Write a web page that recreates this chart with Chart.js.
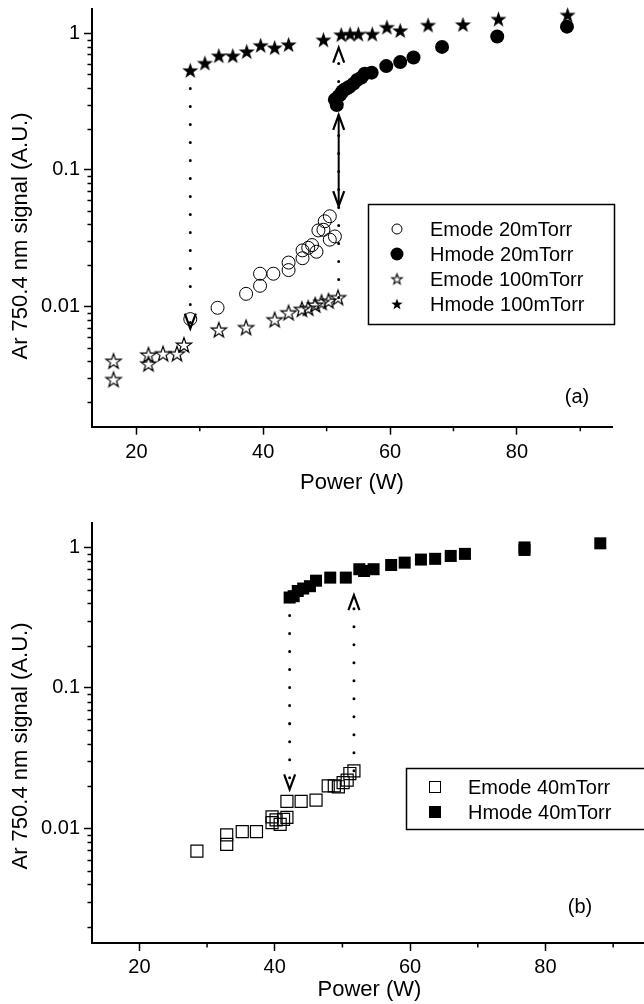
<!DOCTYPE html>
<html><head><meta charset="utf-8">
<script src="https://cdn.jsdelivr.net/npm/chart.js@4"></script>
<style>
html,body{margin:0;padding:0;background:#fff;overflow:hidden;width:644px;height:1004px;position:relative;}
#ca{position:absolute;left:0;top:0;}
#cb{position:absolute;left:0;top:500px;}
</style></head><body>
<canvas id="ca" width="644" height="500"></canvas>
<canvas id="cb" width="660" height="504"></canvas>
<script>
// ---------- data ----------
const xTickValues = [20, 30, 40, 50, 60, 70, 80, 90];
const xLabelValues = [20, 40, 60, 80];
const yDecadeBase = [0.001, 0.01, 0.1, 1];
const yLabelValues = [0.01, 0.1, 1];

// panel (a)
const e20W = [28.5, 32.8, 37.3, 39.5, 39.5, 41.6, 44.0, 44.0, 46.2, 46.2, 47.1, 47.7, 48.4, 48.7, 49.5, 49.7, 50.5, 50.5, 51.3];
const e20S = [0.0081, 0.0098, 0.0124, 0.0142, 0.0174, 0.0174, 0.0185, 0.0210, 0.0226, 0.0258, 0.0269, 0.0282, 0.0252, 0.0361, 0.0365, 0.0421, 0.0309, 0.0458, 0.0326];
const h20W = [51.3, 51.6, 51.9, 52.2, 52.5, 52.8, 53.2, 53.6, 54.2, 54.8, 55.5, 56.0, 57.1, 59.4, 61.6, 63.7, 68.2, 76.9, 87.9];
const h20S = [0.327, 0.298, 0.347, 0.357, 0.376, 0.386, 0.396, 0.406, 0.426, 0.455, 0.475, 0.505, 0.515, 0.575, 0.615, 0.665, 0.795, 0.947, 1.118];
const e100W = [16.4, 16.4, 21.9, 21.9, 24.2, 26.4, 27.5, 33.0, 37.3, 41.8, 44.0, 46.1, 47.1, 48.2, 49.2, 50.3, 51.8];
const e100S = [0.00399, 0.00293, 0.00443, 0.00381, 0.00452, 0.00452, 0.00524, 0.00676, 0.00703, 0.00802, 0.00902, 0.00956, 0.00974, 0.01028, 0.01074, 0.01101, 0.01165];
const h100W = [28.5, 30.8, 33.0, 35.2, 37.4, 39.6, 41.8, 44.0, 49.5, 52.3, 53.7, 55.0, 57.2, 59.5, 61.6, 66.0, 71.5, 77.1, 88.0];
const h100S = [0.535, 0.605, 0.685, 0.685, 0.735, 0.816, 0.785, 0.826, 0.896, 0.977, 0.987, 0.987, 0.987, 1.108, 1.047, 1.149, 1.159, 1.271, 1.362];

// transition guides (a): dotted with arrowhead at "to", solid with heads at both ends
const guideA_W = [28.5, 51.9];
const guideA_from = [0.535, 0.01165];
const guideA_to = [0.0069, 0.785];
const solidA_W = [51.9];
const solidA_from = [0.0544];
const solidA_to = [0.253];

// panel (b)
const e40W = [28.5, 32.9, 32.9, 35.2, 37.3, 39.6, 39.6, 40.2, 40.8, 41.3, 41.8, 41.8, 43.9, 46.1, 47.9, 48.8, 49.4, 50.1, 50.7, 51.1, 51.7];
const e40S = [0.0069, 0.0090, 0.0077, 0.0095, 0.0095, 0.0110, 0.0121, 0.0115, 0.0107, 0.0116, 0.0120, 0.0156, 0.0156, 0.0159, 0.0201, 0.0201, 0.0198, 0.0212, 0.0221, 0.0246, 0.0257];
const h40W = [42.2, 42.8, 43.4, 44.2, 45.2, 46.1, 48.2, 50.5, 52.5, 53.2, 54.6, 57.2, 59.2, 61.6, 63.7, 66.0, 68.1, 76.9, 76.9, 88.1];
const h40S = [0.44, 0.45, 0.49, 0.51, 0.53, 0.58, 0.61, 0.61, 0.70, 0.68, 0.70, 0.75, 0.78, 0.82, 0.83, 0.87, 0.90, 1.0, 0.96, 1.07];
const guideB_W = [42.2, 51.7];
const guideB_from = [0.44, 0.0257];
const guideB_to = [0.019, 0.458];

// ---------- helpers ----------
const FONT = '"Liberation Sans", Arial, sans-serif';
Chart.defaults.font.family = FONT;
Chart.defaults.color = '#000';

const pts = (xs, ys) => xs.map((x, i) => ({x: x, y: ys[i]}));

function starCanvas(R, filled, lw) {
  const r = R * 0.40, pad = 2, s = Math.ceil(2 * R + 2 * pad);
  const c = document.createElement('canvas'); c.width = s; c.height = s;
  const g = c.getContext('2d'); const cx = s / 2, cy = s / 2 + R * 0.08;
  g.beginPath();
  for (let i = 0; i < 10; i++) {
    const a = -Math.PI / 2 + i * Math.PI / 5, rr = (i % 2) ? r : R;
    g.lineTo(cx + rr * Math.cos(a), cy + rr * Math.sin(a));
  }
  g.closePath();
  if (filled) { g.fillStyle = '#000'; g.fill(); }
  else { g.lineWidth = lw; g.strokeStyle = '#000'; g.lineJoin = 'miter'; g.stroke(); }
  return c;
}
const starOpen = starCanvas(8, false, 1.2);
const starFull = starCanvas(8.5, true);
const starOpenSm = starCanvas(5.5, false, 1.1);
const starFullSm = starCanvas(6, true);

function logTicks(min, max) {
  const t = [];
  for (const d of yDecadeBase) for (let m = 1; m <= 9; m++) {
    const v = +(d * m).toPrecision(3);
    if (v >= min && v <= max) t.push({value: v, major: yLabelValues.includes(v)});
  }
  return t;
}

function guideDatasets(W, from, to, dotted) {
  return W.map((w, i) => ({
    data: [{x: w, y: from[i]}, {x: w, y: to[i]}],
    showLine: true, pointRadius: 0, borderColor: '#000', backgroundColor: '#000',
    borderWidth: dotted ? 3 : 2, borderDash: dotted ? [0.01, 18] : [],
    borderCapStyle: dotted ? 'round' : 'butt', fill: false, clip: false
  }));
}

function chevron(ctx, px, py, up) {
  const h = 15, w = 5.5, s = up ? 1 : -1;
  ctx.beginPath();
  ctx.moveTo(px - w, py + s * h); ctx.lineTo(px, py); ctx.lineTo(px + w, py + s * h);
  ctx.stroke();
}

const decorPlugin = {
  id: 'decor',
  afterDraw(chart) {
    const o = chart.options.plugins.decor;
    const ctx = chart.ctx, xs = chart.scales.x, ys = chart.scales.y;
    ctx.save();
    // minor ticks
    ctx.strokeStyle = '#000'; ctx.lineWidth = 1.5;
    ctx.beginPath();
    for (const t of xs.ticks) { if (t.major) continue; const p = xs.getPixelForValue(t.value); ctx.moveTo(p, xs.top); ctx.lineTo(p, xs.top + 4.5); }
    for (const t of ys.ticks) { if (t.major) continue; const p = Math.round(ys.getPixelForValue(t.value)) + 0.5; ctx.moveTo(ys.right, p); ctx.lineTo(ys.right - 4.5, p); }
    ctx.stroke();
    // arrowheads
    ctx.lineWidth = 2.2; ctx.lineJoin = 'miter';
    for (const g of o.heads) {
      g.W.forEach((w, i) => {
        const px = xs.getPixelForValue(w);
        const up = g.to[i] > g.from[i];
        chevron(ctx, px, ys.getPixelForValue(g.to[i]), up);
        if (g.both) chevron(ctx, px, ys.getPixelForValue(g.from[i]), !up);
      });
    }
    // y-axis title
    ctx.fillStyle = '#000';
    ctx.font = '22px ' + FONT;
    ctx.textAlign = 'center'; ctx.textBaseline = 'middle';
    ctx.translate(o.yTitle.x, o.yTitle.y); ctx.rotate(-Math.PI / 2);
    ctx.fillText('Ar 750.4 nm signal (A.U.)', 0, 0);
    ctx.setTransform(1, 0, 0, 1, 0, 0);
    // legend box
    const L = o.legend;
    ctx.lineWidth = 1.5; ctx.strokeStyle = '#000';
    ctx.strokeRect(L.box[0] + 0.5, L.box[1] + 0.5, L.box[2], L.box[3]);
    ctx.font = '20px ' + FONT; ctx.textAlign = 'left'; ctx.textBaseline = 'middle';
    L.items.forEach((it, i) => {
      const y = L.y0 + i * L.dy, mx = L.mx;
      ctx.fillStyle = '#000'; ctx.strokeStyle = '#000'; ctx.lineWidth = 1;
      if (it.m === 'co') { ctx.beginPath(); ctx.arc(mx, y, 5, 0, 2 * Math.PI); ctx.stroke(); }
      else if (it.m === 'cf') { ctx.beginPath(); ctx.arc(mx, y, 6.5, 0, 2 * Math.PI); ctx.fill(); }
      else if (it.m === 'so') { ctx.drawImage(starOpenSm, mx - starOpenSm.width / 2, y - starOpenSm.height / 2); }
      else if (it.m === 'sf') { ctx.drawImage(starFullSm, mx - starFullSm.width / 2, y - starFullSm.height / 2); }
      else if (it.m === 'qo') { ctx.strokeRect(mx - 5.5, y - 5.5, 11, 11); }
      else if (it.m === 'qf') { ctx.fillRect(mx - 6, y - 6, 12, 12); }
      ctx.fillText(it.t, L.tx, y + 1);
    });
    ctx.font = '20px ' + FONT; ctx.textAlign = 'center';
    ctx.fillText(o.tag.t, o.tag.x, o.tag.y);
    ctx.restore();
  }
};

function zeroPad(s) { s.paddingTop = 0; s.paddingBottom = 0; s.paddingLeft = 0; s.paddingRight = 0; }

function makeOptions(cfg) {
  return {
    responsive: false, animation: false, events: [],
    layout: {padding: {left: 0, right: cfg.padRight, top: cfg.padTop, bottom: 0}},
    plugins: {legend: {display: false}, tooltip: {enabled: false}, decor: cfg.decor},
    scales: {
      x: {
        type: 'linear', position: 'bottom', min: 13, max: 95, bounds: 'data',
        afterBuildTicks: s => { s.ticks = xTickValues.map(v => ({value: v, major: xLabelValues.includes(v)})); },
        afterFit: s => { s.height = cfg.xHeight; zeroPad(s); },
        ticks: {autoSkip: false, maxRotation: 0, padding: cfg.xTickPad, font: {size: 20}, color: '#000',
          callback: (v, i, t) => (t[i] && t[i].major) ? String(v) : ''},
        grid: {drawOnChartArea: false, drawTicks: true, tickLength: 8, tickWidth: 1.5,
          tickColor: c => (c.tick && c.tick.major) ? '#000' : 'rgba(0,0,0,0)'},
        border: {display: true, color: '#000', width: 2},
        title: {display: true, text: 'Power (W)', font: {size: 22}, color: '#000', padding: {top: 0, bottom: cfg.xTitlePad}}
      },
      y: {
        type: 'logarithmic', position: 'left', min: cfg.yMin, max: cfg.yMax, bounds: 'data',
        afterBuildTicks: s => { s.ticks = logTicks(cfg.yMin, cfg.yMax); },
        afterFit: s => { s.width = 92; zeroPad(s); },
        ticks: {autoSkip: false, padding: 4, font: {size: 20}, color: '#000',
          callback: (v, i, t) => (t[i] && t[i].major) ? String(v) : ''},
        grid: {drawOnChartArea: false, drawTicks: true, tickLength: 8, tickWidth: 1.5,
          tickColor: c => (c.tick && c.tick.major) ? '#000' : 'rgba(0,0,0,0)'},
        border: {display: true, color: '#000', width: 2},
        title: {display: false}
      }
    }
  };
}

// ---------- chart (a) ----------
new Chart(document.getElementById('ca'), {
  type: 'scatter',
  data: {datasets: [
    {label: 'Emode 20mTorr', data: pts(e20W, e20S), pointStyle: 'circle', pointRadius: 6.5, borderWidth: 1, borderColor: '#000', backgroundColor: 'rgba(0,0,0,0)', clip: false},
    {label: 'Hmode 20mTorr', data: pts(h20W, h20S), pointStyle: 'circle', pointRadius: 7, borderWidth: 0, borderColor: '#000', backgroundColor: '#000', clip: false},
    {label: 'Emode 100mTorr', data: pts(e100W, e100S), pointStyle: starOpen, pointRadius: 8, borderColor: '#000', clip: false},
    {label: 'Hmode 100mTorr', data: pts(h100W, h100S), pointStyle: starFull, pointRadius: 8, borderColor: '#000', clip: false},
    ...guideDatasets(guideA_W, guideA_from, guideA_to, true),
    ...guideDatasets(solidA_W, solidA_from, solidA_to, false)
  ]},
  options: makeOptions({
    padRight: 32, padTop: 6.5, xHeight: 73.3, xTickPad: 6, xTitlePad: 4, yMin: 0.001322, yMax: 1.505,
    decor: {
      heads: [{W: guideA_W, from: guideA_from, to: guideA_to, both: false},
              {W: solidA_W, from: solidA_from, to: solidA_to, both: true}],
      yTitle: {x: 21, y: 236},
      legend: {box: [368, 204, 246, 120], mx: 397, tx: 430, y0: 229, dy: 25,
        items: [{m: 'co', t: 'Emode 20mTorr'}, {m: 'cf', t: 'Hmode 20mTorr'}, {m: 'so', t: 'Emode 100mTorr'}, {m: 'sf', t: 'Hmode 100mTorr'}]},
      tag: {t: '(a)', x: 577, y: 397}
    }
  }),
  plugins: [decorPlugin]
});

// ---------- chart (b) ----------
new Chart(document.getElementById('cb'), {
  type: 'scatter',
  data: {datasets: [
    {label: 'Emode 40mTorr', data: pts(e40W, e40S), pointStyle: 'rect', pointRadius: 8.5, borderWidth: 1.2, borderColor: '#000', backgroundColor: 'rgba(0,0,0,0)', clip: false},
    {label: 'Hmode 40mTorr', data: pts(h40W, h40S), pointStyle: 'rect', pointRadius: 8.5, borderWidth: 0, borderColor: '#000', backgroundColor: '#000', clip: false},
    ...guideDatasets(guideB_W, guideB_from, guideB_to, true)
  ]},
  options: makeOptions({
    padRight: 13, padTop: 23, xHeight: 61, xTickPad: 4, xTitlePad: 1, yMin: 0.00153, yMax: 1.493,
    decor: {
      heads: [{W: guideB_W, from: guideB_from, to: guideB_to, both: false}],
      yTitle: {x: 21, y: 246},
      legend: {box: [406, 268, 240, 61], mx: 435, tx: 468, y0: 287, dy: 25,
        items: [{m: 'qo', t: 'Emode 40mTorr'}, {m: 'qf', t: 'Hmode 40mTorr'}]},
      tag: {t: '(b)', x: 580, y: 407}
    }
  }),
  plugins: [decorPlugin]
});
</script>
</body></html>
